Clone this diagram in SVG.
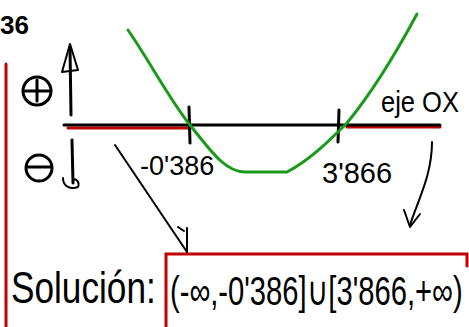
<svg xmlns="http://www.w3.org/2000/svg" width="469" height="327" viewBox="0 0 469 327">
<style>
.ink{fill:none;stroke:#000;stroke-width:3;stroke-linecap:round;stroke-linejoin:round}
.thin{fill:none;stroke:#000;stroke-width:2;stroke-linecap:round;stroke-linejoin:round}
.red{fill:none;stroke:#c00000;stroke-width:3;stroke-linecap:round}
.green{fill:none;stroke:#1a9a1a;stroke-width:3;stroke-linecap:round;stroke-linejoin:round}
.t{font-family:"Liberation Sans",Arial,sans-serif;fill:#000}
</style>
<rect width="469" height="327" fill="#fff"/>
<text class="t" x="0" y="34" font-size="26" font-weight="bold">36</text>
<g id="frame">
<line class="red" x1="6" y1="64" x2="6" y2="327"/>
<polyline class="red" points="166,327 166,254 467,254 467,266"/>
</g>
<g id="signs">
<circle class="ink" cx="37" cy="91" r="14"/>
<line class="ink" x1="25" y1="91" x2="49" y2="91"/>
<line class="ink" x1="37" y1="80" x2="37" y2="101"/>
<circle class="ink" cx="39" cy="168" r="13"/>
<line class="ink" x1="27" y1="167" x2="51" y2="167"/>
</g>
<g id="axis">
<line class="red" x1="68" y1="128" x2="190" y2="128"/>
<line class="red" x1="347" y1="127" x2="440" y2="127"/>
<line class="ink" x1="64" y1="125" x2="440" y2="125"/>
<line class="ink" x1="189" y1="107" x2="190" y2="143"/>
<line class="ink" x1="339" y1="110" x2="338" y2="142"/>
<path class="green" d="M128,30 C150,62 170,100 190,125 C210,150 225,172 245,172 L287,172 C310,160 330,140 347,123 C370,95 395,55 417,14"/>
</g>
<g id="labels">
<text class="t" x="140" y="175" font-size="27">-0'386</text>
<text class="t" x="322" y="183" font-size="29">3'866</text>
<text class="t" transform="translate(381,112) scale(0.85,1)" font-size="30">eje OX</text>
<text class="t" transform="translate(11,303) scale(0.8,1)" font-size="44">Solución:</text>
<text class="t" transform="translate(170,305) scale(0.73,1)" font-size="40">(-∞,-0'386]∪[3'866,+∞)</text>
</g>
<g id="connectors">
<line class="ink" x1="71" y1="115" x2="70" y2="48"/>
<polygon class="thin" points="70,44 62,72 78,70"/>
<path class="ink" d="M72,140 L73,183"/>
<path class="thin" d="M63,178 C63,186 70,190 78,187 C80,182 76,178 73,180"/>
<line class="thin" x1="115" y1="145" x2="187" y2="252"/>
<path class="thin" d="M187,252 L187,228 M178,227 L184,231"/>
<path class="thin" d="M432,142 C432,175 418,200 410,225"/>
<path class="thin" d="M404,210 L410,227 L420,214"/>
</g>
</svg>
